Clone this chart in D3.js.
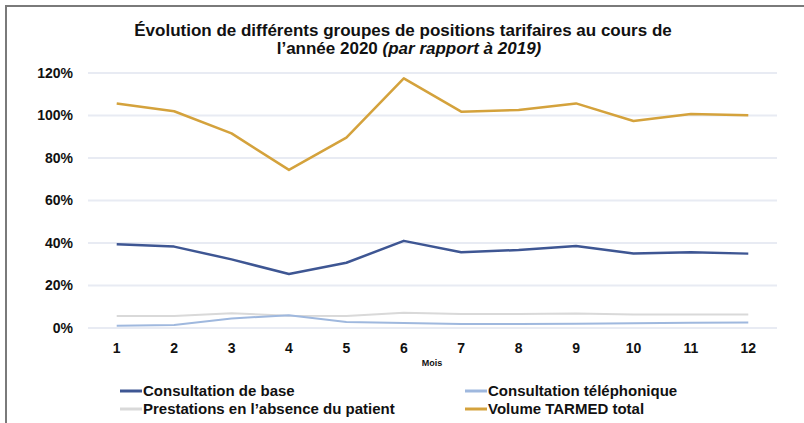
<!DOCTYPE html>
<html>
<head>
<meta charset="utf-8">
<script src="https://cdn.jsdelivr.net/npm/d3@7"></script>
<style>
  body { margin: 0; background: #fff; }
  svg { display: block; font-family: "Liberation Sans", Arial, sans-serif; }
</style>
</head>
<body>
<div id="chart"></div>
<script>
// months and series (% of 2019)
const months = [1, 2, 3, 4, 5, 6, 7, 8, 9, 10, 11, 12]
const consultationBase = [39.4, 38.3, 32.3, 25.4, 30.7, 41.0, 35.6, 36.7, 38.6, 35.1, 35.6, 35.0]
const consultationTel = [1.1, 1.4, 4.5, 6.0, 2.8, 2.4, 1.9, 1.9, 2.0, 2.2, 2.5, 2.6]
const prestationsAbsence = [5.6, 5.6, 6.9, 5.8, 5.6, 7.2, 6.6, 6.6, 6.8, 6.4, 6.4, 6.4]
const volumeTarmed = [105.7, 102.0, 91.6, 74.4, 89.6, 117.5, 101.8, 102.6, 105.7, 97.4, 100.7, 100.1]
const yTicks = [0, 20, 40, 60, 80, 100, 120]

const series = [
  {name: "Consultation de base", values: consultationBase, color: "#3e5693", width: 2.5},
  {name: "Consultation téléphonique", values: consultationTel, color: "#9fb8de", width: 2},
  {name: "Prestations en l\u2019absence du patient", values: prestationsAbsence, color: "#d9d9d9", width: 2},
  {name: "Volume TARMED total", values: volumeTarmed, color: "#d4a23c", width: 2.5}
]

const width = 804, height = 423
const margin = {top: 73, right: 27, bottom: 95, left: 88}

const svg = d3.select("#chart").append("svg")
  .attr("width", width)
  .attr("height", height)

// frame (left and top only)
svg.append("path")
  .attr("d", `M6,${height} L6,6 L${width},6`)
  .attr("fill", "none")
  .attr("stroke", "#7a7a7a")
  .attr("stroke-width", 2)

// title
const title = svg.append("text")
  .attr("text-anchor", "middle")
  .attr("font-weight", "bold")
  .attr("font-size", 17)
  .attr("fill", "#111")
title.append("tspan").attr("x", 403).attr("y", 36)
  .text("Évolution de différents groupes de positions tarifaires au cours de")
const t2 = title.append("tspan").attr("x", 409).attr("y", 54)
t2.append("tspan").text("l\u2019année 2020 ")
t2.append("tspan").attr("font-style", "italic").text("(par rapport à 2019)")

const x = d3.scaleBand()
  .domain(months)
  .range([margin.left, width - margin.right])

const y = d3.scaleLinear()
  .domain([0, 120])
  .range([height - margin.bottom, margin.top])

// gridlines
svg.append("g")
  .selectAll("line")
  .data(yTicks)
  .join("line")
    .attr("x1", margin.left)
    .attr("x2", width - margin.right)
    .attr("y1", d => y(d))
    .attr("y2", d => y(d))
    .attr("stroke", "#e8ebf3")
    .attr("stroke-width", 2)

// y axis
const yAxis = svg.append("g")
  .attr("transform", `translate(${margin.left - 12},0)`)
  .call(d3.axisLeft(y).tickValues(yTicks).tickSize(0).tickFormat(d => d + "%"))
yAxis.select(".domain").remove()
yAxis.selectAll("text")
  .attr("font-size", 14)
  .attr("font-weight", "bold")
  .attr("fill", "#111")
  .attr("font-family", "Liberation Sans, Arial, sans-serif")

// x axis
const xAxis = svg.append("g")
  .attr("transform", `translate(0,${height - margin.bottom + 12})`)
  .call(d3.axisBottom(x).tickSize(0))
xAxis.select(".domain").remove()
xAxis.selectAll("text")
  .attr("font-size", 14)
  .attr("font-weight", "bold")
  .attr("fill", "#111")
  .attr("font-family", "Liberation Sans, Arial, sans-serif")

svg.append("text")
  .attr("x", 432)
  .attr("y", 366)
  .attr("text-anchor", "middle")
  .attr("font-size", 9)
  .attr("font-weight", "bold")
  .attr("fill", "#111")
  .text("Mois")

// lines
const line = d3.line()
  .x((d, i) => x(months[i]) + x.bandwidth() / 2)
  .y(d => y(d))

svg.append("g")
  .selectAll("path")
  .data([series[2], series[1], series[0], series[3]])
  .join("path")
    .attr("d", d => line(d.values))
    .attr("fill", "none")
    .attr("stroke", d => d.color)
    .attr("stroke-width", d => d.width)
    .attr("stroke-linejoin", "round")

// legend
const legendPos = [[120, 391], [465, 391], [120, 409], [465, 409]]
const legend = svg.append("g")
  .selectAll("g")
  .data(series)
  .join("g")
    .attr("transform", (d, i) => `translate(${legendPos[i][0]},${legendPos[i][1]})`)
legend.append("line")
  .attr("x1", 0).attr("x2", 22)
  .attr("stroke", d => d.color)
  .attr("stroke-width", 3)
legend.append("text")
  .attr("x", 23)
  .attr("dy", "0.35em")
  .attr("font-size", 15)
  .attr("font-weight", "bold")
  .attr("fill", "#111")
  .text(d => d.name)
</script>
</body>
</html>
